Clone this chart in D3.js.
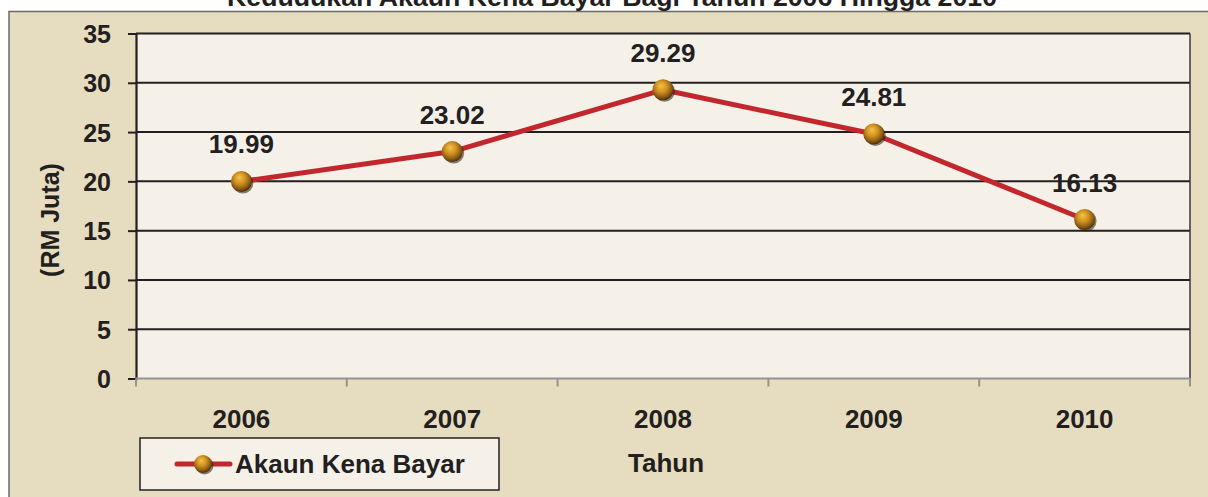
<!DOCTYPE html>
<html>
<head>
<meta charset="utf-8">
<script src="https://cdn.jsdelivr.net/npm/d3@7"></script>
<style>
  body { margin: 0; background: #fff; }
  svg { display: block; font-family: "Liberation Sans", Arial, sans-serif; font-weight: bold; }
</style>
</head>
<body>
<script>
const years = ["2006", "2007", "2008", "2009", "2010"];
const values = [19.99, 23.02, 29.29, 24.81, 16.13];
const yTicks = [0, 5, 10, 15, 20, 25, 30, 35];
const titleText = "Kedudukan Akaun Kena Bayar Bagi Tahun 2006 Hingga 2010";
const seriesName = "Akaun Kena Bayar";

const W = 1208, H = 497;
const plot = { left: 136, right: 1190, top: 33.5, bottom: 378.5 };

const svg = d3.select("body").append("svg")
  .attr("width", W).attr("height", H);

// gradient for the ball markers
const defs = svg.append("defs");
const grad = defs.append("radialGradient")
  .attr("id", "ball").attr("cx", "45%").attr("cy", "40%").attr("r", "60%")
  .attr("fx", "40%").attr("fy", "30%");
grad.append("stop").attr("offset", "0%").attr("stop-color", "#f6c24a");
grad.append("stop").attr("offset", "45%").attr("stop-color", "#d0921f");
grad.append("stop").attr("offset", "80%").attr("stop-color", "#8a5a14");
grad.append("stop").attr("offset", "100%").attr("stop-color", "#4a2e08");

// chart frame
svg.append("rect")
  .attr("x", 9).attr("y", 11.5).attr("width", W - 9).attr("height", H - 11.5)
  .attr("fill", "#e6dcbf");
svg.append("path")
  .attr("d", `M9,${H}V11.5H${W}`)
  .attr("fill", "none").attr("stroke", "#6d6a66").attr("stroke-width", 1.5);

// title, cut at the top like the source
svg.append("text")
  .attr("x", 612).attr("y", 6)
  .attr("text-anchor", "middle")
  .attr("font-size", 25)
  .attr("textLength", 770).attr("lengthAdjust", "spacingAndGlyphs")
  .attr("fill", "#231f20")
  .text(titleText);

const x = d3.scaleBand().domain(years).range([plot.left, plot.right]);
const y = d3.scaleLinear().domain([0, 35]).range([plot.bottom, plot.top]);

// plot area
svg.append("rect")
  .attr("x", plot.left).attr("y", plot.top)
  .attr("width", plot.right - plot.left).attr("height", plot.bottom - plot.top)
  .attr("fill", "#f5f1e9");

// gridlines
svg.append("g").selectAll("line")
  .data(yTicks.filter(d => d > 0))
  .join("line")
  .attr("x1", plot.left).attr("x2", plot.right)
  .attr("y1", d => y(d)).attr("y2", d => y(d))
  .attr("stroke", "#231f20").attr("stroke-width", 2);

// right border
svg.append("line")
  .attr("x1", plot.right).attr("x2", plot.right)
  .attr("y1", plot.top).attr("y2", plot.bottom)
  .attr("stroke", "#3a3634").attr("stroke-width", 1.5);

// y axis
const yAxis = svg.append("g")
  .attr("transform", `translate(${plot.left},0)`)
  .call(d3.axisLeft(y).tickValues(yTicks).tickSize(8).tickPadding(17));
yAxis.select(".domain").attr("stroke", "#231f20").attr("stroke-width", 2.2);
yAxis.selectAll(".tick line").attr("stroke", "#231f20").attr("stroke-width", 2);
yAxis.selectAll(".tick text")
  .attr("font-size", 25).attr("font-family", "Liberation Sans, Arial, sans-serif")
  .attr("font-weight", "bold").attr("fill", "#231f20").attr("dy", "0.36em");

// x axis: boundary ticks, labels centred in bands
const xBase = svg.append("g");
xBase.append("line")
  .attr("x1", plot.left).attr("x2", plot.right)
  .attr("y1", plot.bottom).attr("y2", plot.bottom)
  .attr("stroke", "#939393").attr("stroke-width", 2);
const bounds = years.map(d => x(d)).concat([x(years[years.length - 1]) + x.bandwidth()]);
xBase.selectAll(".xt").data(bounds).join("line")
  .attr("class", "xt")
  .attr("x1", d => d).attr("x2", d => d)
  .attr("y1", plot.bottom).attr("y2", plot.bottom + 8)
  .attr("stroke", "#939393").attr("stroke-width", 2);
xBase.selectAll(".xl").data(years).join("text")
  .attr("class", "xl")
  .attr("x", d => x(d) + x.bandwidth() / 2).attr("y", 428)
  .attr("text-anchor", "middle").attr("font-size", 26).attr("fill", "#231f20")
  .text(d => d);

// axis titles
svg.append("text")
  .attr("transform", "translate(59,220) rotate(-90)")
  .attr("text-anchor", "middle").attr("font-size", 25).attr("fill", "#231f20")
  .text("(RM Juta)");
svg.append("text")
  .attr("x", 666).attr("y", 472)
  .attr("text-anchor", "middle").attr("font-size", 26).attr("fill", "#231f20")
  .text("Tahun");

// series line
const cx = (d, i) => x(years[i]) + x.bandwidth() / 2;
const line = d3.line().x(cx).y(d => y(d));
svg.append("path")
  .datum(values)
  .attr("d", line)
  .attr("fill", "none").attr("stroke", "#c1272d").attr("stroke-width", 5)
  .attr("stroke-linejoin", "round");

function ball(g, px, py, r) {
  g.append("circle").attr("cx", px + 1.5).attr("cy", py + 1.5).attr("r", r)
    .attr("fill", "#2a1e10").attr("opacity", 0.55);
  g.append("circle").attr("cx", px).attr("cy", py).attr("r", r)
    .attr("fill", "url(#ball)");
}

const marks = svg.append("g");
values.forEach((v, i) => ball(marks, cx(v, i), y(v), 10.5));

// data labels
svg.append("g").selectAll("text")
  .data(values).join("text")
  .attr("x", cx).attr("y", d => y(d) - 28)
  .attr("text-anchor", "middle").attr("font-size", 26).attr("fill", "#231f20")
  .text(d => d.toFixed(2));

// legend
const lg = svg.append("g");
lg.append("rect")
  .attr("x", 140).attr("y", 438).attr("width", 359).attr("height", 52)
  .attr("fill", "#f5f1e9").attr("stroke", "#231f20").attr("stroke-width", 1.5);
lg.append("line")
  .attr("x1", 177).attr("x2", 230).attr("y1", 464).attr("y2", 464)
  .attr("stroke", "#c1272d").attr("stroke-width", 5).attr("stroke-linecap", "round");
ball(lg, 203, 464, 9);
lg.append("text")
  .attr("x", 235).attr("y", 473).attr("font-size", 26).attr("fill", "#231f20")
  .text(seriesName);
</script>
</body>
</html>
